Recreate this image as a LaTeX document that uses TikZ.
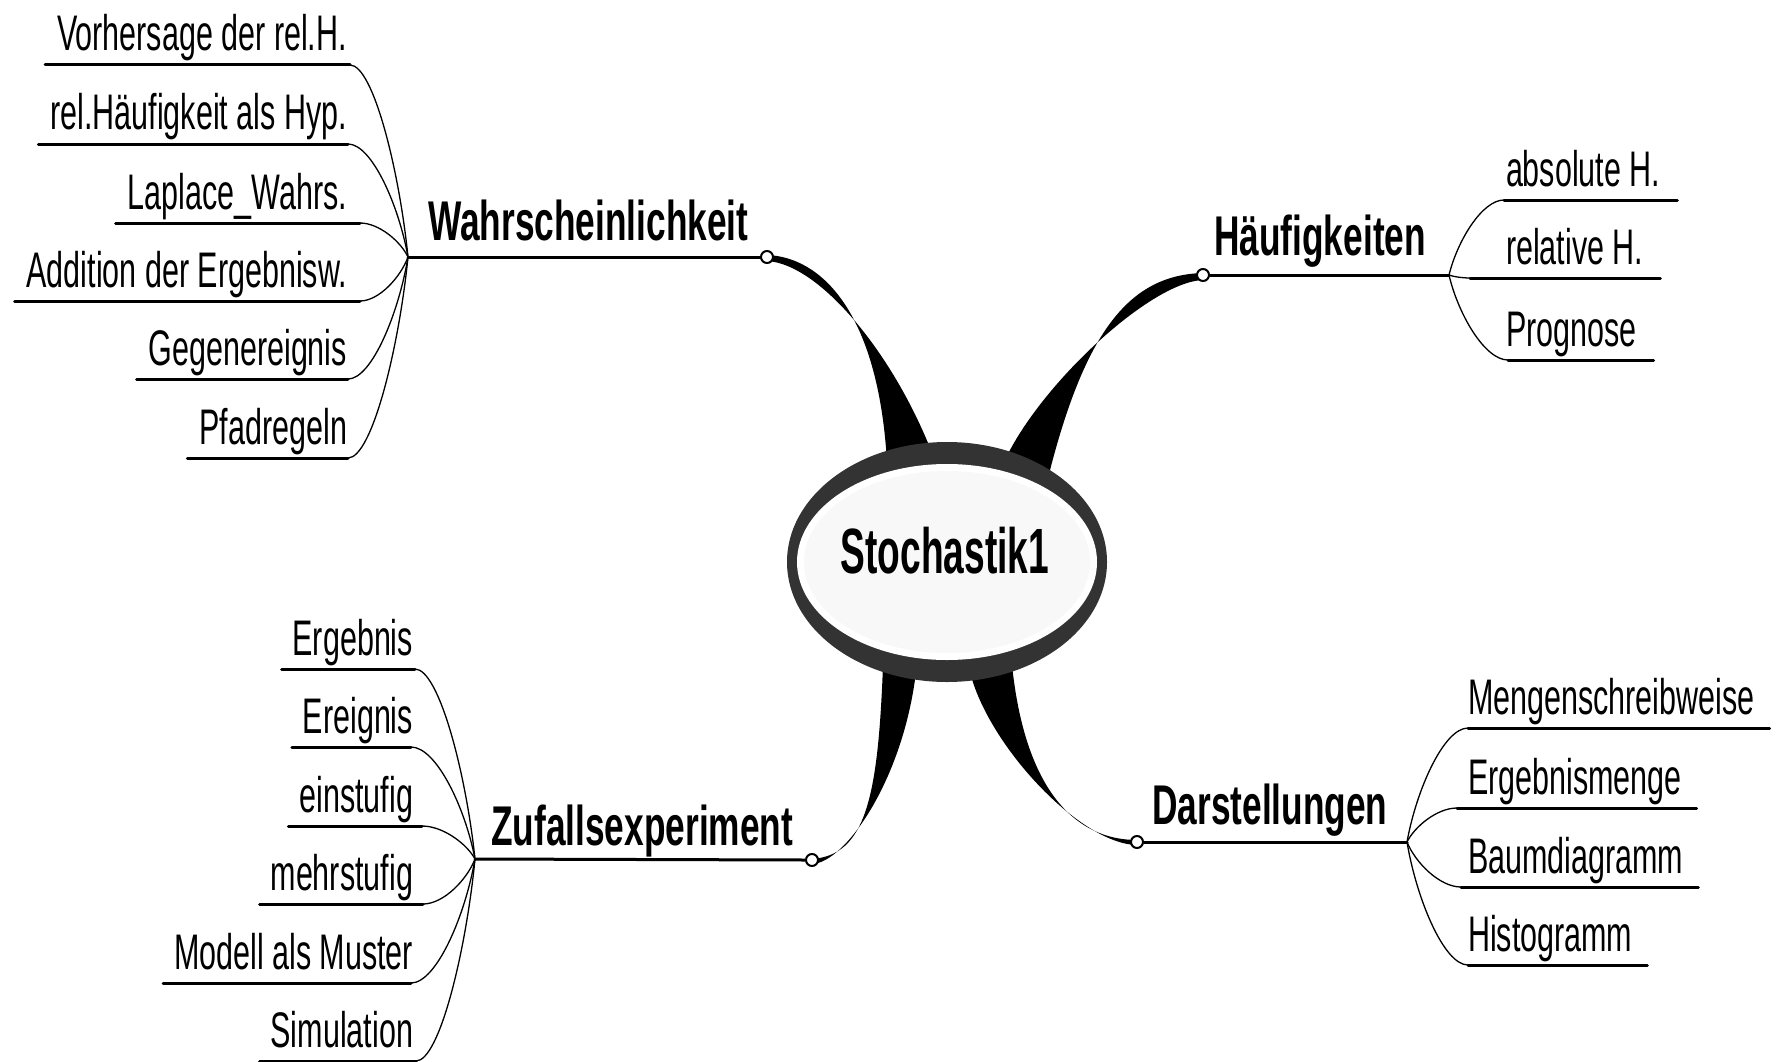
\documentclass[tikz,border=0pt]{standalone}
\usepackage{fontspec}
\setmainfont{Liberation Sans}
\newfontfamily\leaffont[FakeStretch=0.61]{Liberation Sans}
\newfontfamily\branchfont[FakeStretch=0.63]{Liberation Sans}
\newfontfamily\corefont[FakeStretch=0.58]{Liberation Sans}
\definecolor{ring}{HTML}{333333}
\definecolor{corefill}{HTML}{F8F8F8}

\begin{document}
\begin{tikzpicture}[x=1pt, y=1pt, line join=round, line cap=round,
	leaf/.style={font=\leaffont\fontsize{50}{56}\selectfont, inner xsep=0pt, inner ysep=6pt, text depth=8pt, outer sep=0pt},
	branch/.style={font=\branchfont\bfseries\fontsize{56}{62}\selectfont, inner sep=0pt, anchor=base west},
	stem/.style={line width=3pt},
	twig/.style={line width=1.3pt},
	knot/.style={circle, draw, line width=2pt, fill=white, inner sep=0pt, minimum size=12pt}]
	
	\useasboundingbox (0,0) rectangle (1779,-1062);
	
	% Knoten der Hauptäste
	\coordinate (hW) at (408,-257);
	\coordinate (hH) at (1449,-275);
	\coordinate (hZ) at (475,-859);
	\coordinate (hD) at (1407,-842);
	
	% Dicke Verbindungen zur Mitte (unter der Ellipse)
	\fill (767,-255) .. controls (820,-257) and (878,-310) .. (887,-462) -- (934,-458) .. controls (895,-355) and (820,-264) .. (767,-261) -- cycle;
	\fill (1203,-273) .. controls (1130,-275) and (1085,-330) .. (1048,-478) -- (1005,-460) .. controls (1040,-385) and (1150,-282) .. (1203,-280) -- cycle;
	\fill (812,-859) .. controls (865,-855) and (878,-800) .. (883,-665) -- (916,-672) .. controls (903,-780) and (845,-863) .. (812,-864) -- cycle;
	\fill (970,-672) .. controls (988,-745) and (1080,-844) .. (1137,-845) -- (1137,-840) .. controls (1075,-840) and (1025,-790) .. (1012,-665) -- cycle;
	
	% Zentrale Ellipse
	\fill[ring] (947,-562) ellipse [x radius=160, y radius=120];
	\fill[white] (947,-562) ellipse [x radius=150, y radius=98];
	\fill[corefill] (947,-562) ellipse [x radius=143, y radius=91];
	\node[font=\corefont\bfseries\fontsize{64}{70}\selectfont, inner sep=0pt, anchor=base] (core) at (945,-573) {Stochastik1};
	
	% Hauptäste mit Beschriftung
	\node[knot] (kW) at (767,-257) {};
	\node[knot] (kH) at (1203,-275) {};
	\node[knot] (kZ) at (812,-860) {};
	\node[knot] (kD) at (1137,-842) {};
	\draw[stem] (hW) -- (kW.west);
	\draw[stem] (kH.east) -- (hH);
	\draw[stem] (hZ) -- (kZ.west);
	\draw[stem] (kD.east) -- (hD);
	\node[branch] (wahr) at (428,-240) {Wahrscheinlichkeit};
	\node[branch] (haeuf) at (1214,-255) {Häufigkeiten};
	\node[branch] (zufall) at (491,-845) {Zufallsexperiment};
	\node[branch] (darst) at (1152,-824) {Darstellungen};
	
	% Wahrscheinlichkeit
	\foreach \n/\uy/\xe/\txt in {w1/65/350/Vorhersage der rel.H., w2/144/348/rel.Häufigkeit als Hyp., w3/223/360/Laplace\_Wahrs., w4/301/360/Addition der Ergebnisw., w5/379/348/Gegenereignis, w6/458/348/Pfadregeln}{
		\node[leaf, anchor=south east] (\n) at (347,-\uy) {\txt};
		\draw[stem] ([xshift=-12pt]\n.south west) -- (\xe,-\uy) coordinate (\n-end);
		\pgfmathsetmacro\ca{0.4*(408-\xe)}
		\pgfmathsetmacro\cb{0.15*(\xe-408)}
		\pgfmathsetmacro\cc{0.45*(257-\uy)}
		\draw[twig] (\n-end) .. controls +(\ca,0) and +(\cb,\cc) .. (hW);
	}
	
	% Zufallsexperiment
	\foreach \n/\uy/\xe/\txt in {z1/669/415/Ergebnis, z2/747/411/Ereignis, z3/826/422/einstufig, z4/904/423/mehrstufig, z5/983/411/Modell als Muster, z6/1061/416/Simulation}{
		\node[leaf, anchor=south east] (\n) at (413,-\uy) {\txt};
		\draw[stem] ([xshift=-11pt]\n.south west) -- (\xe,-\uy) coordinate (\n-end);
		\pgfmathsetmacro\ca{0.4*(475-\xe)}
		\pgfmathsetmacro\cb{0.15*(\xe-475)}
		\pgfmathsetmacro\cc{0.45*(859-\uy)}
		\draw[twig] (\n-end) .. controls +(\ca,0) and +(\cb,\cc) .. (hZ);
	}
	
	% Häufigkeiten
	\foreach \n/\uy/\xs/\txt in {h1/200/1504/absolute H., h2/278/1470/relative H., h3/360/1508/Prognose}{
		\node[leaf, anchor=south west] (\n) at (1506,-\uy) {\txt};
		\draw[stem] (\xs,-\uy) coordinate (\n-end) -- ([xshift=17pt]\n.south east);
		\pgfmathsetmacro\ca{0.4*(1449-\xs)}
		\pgfmathsetmacro\cb{0.15*(\xs-1449)}
		\pgfmathsetmacro\cc{0.45*(275-\uy)}
		\draw[twig] (\n-end) .. controls +(\ca,0) and +(\cb,\cc) .. (hH);
	}
	
	% Darstellungen
	\foreach \n/\uy/\xs/\txt in {d1/728/1468/Mengenschreibweise, d2/808/1457/Ergebnismenge, d3/887/1461/Baumdiagramm, d4/965/1468/Histogramm}{
		\node[leaf, anchor=south west] (\n) at (1468,-\uy) {\txt};
		\draw[stem] (\xs,-\uy) coordinate (\n-end) -- ([xshift=15pt]\n.south east);
		\pgfmathsetmacro\ca{0.4*(1407-\xs)}
		\pgfmathsetmacro\cb{0.15*(\xs-1407)}
		\pgfmathsetmacro\cc{0.45*(842-\uy)}
		\draw[twig] (\n-end) .. controls +(\ca,0) and +(\cb,\cc) .. (hD);
	}
	
\end{tikzpicture}
\end{document}
